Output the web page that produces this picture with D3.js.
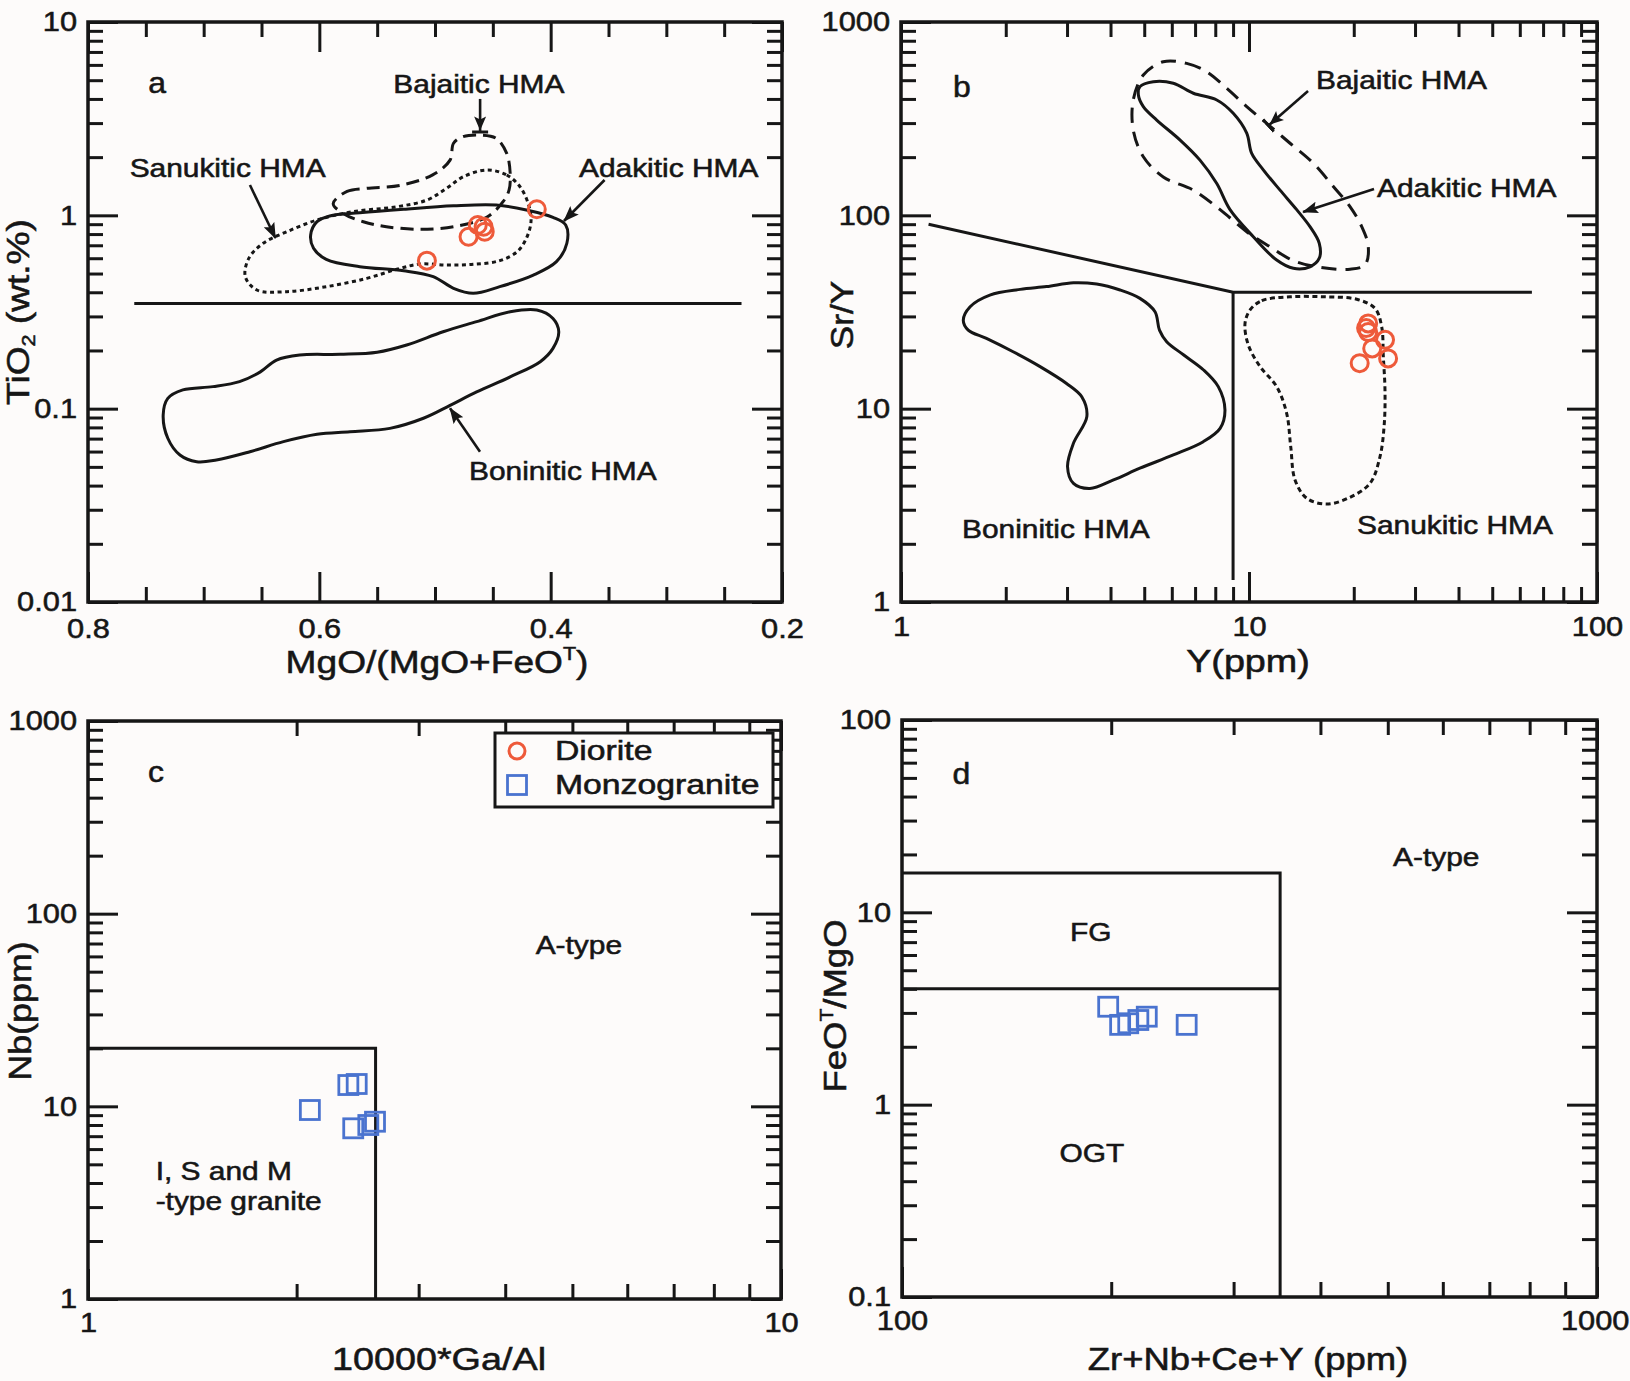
<!DOCTYPE html>
<html>
<head>
<meta charset="utf-8">
<script src="https://cdn.jsdelivr.net/npm/d3@7"></script>
<style>
  body { margin: 0; background: #fdfbfa; }
  svg text { font-family: "Liberation Sans", Arial, Helvetica, sans-serif; fill: #161616; stroke: #161616; stroke-width: 0.55px; }
</style>
</head>
<body>
<svg id="chart" width="1630" height="1381"></svg>
<script>
// ---------------- data ----------------
// (a) TiO2 (wt.%) vs MgO/(MgO+FeOT): HMA fields as [MgO#, TiO2]
const aBajaitic = [[0.588,1.15],[0.576,1.33],[0.559,1.38],[0.530,1.43],[0.502,1.62],[0.487,1.93],[0.484,2.36],[0.476,2.55],[0.460,2.60],[0.447,2.50],[0.438,2.09],[0.435,1.65],[0.436,1.35],[0.441,1.18],[0.455,0.98],[0.484,0.873],[0.513,0.847],[0.542,0.873],[0.562,0.927],[0.579,1.02]];
const aSanukitic = [[0.455,1.716],[0.438,1.616],[0.4265,1.406],[0.419,1.13],[0.417,0.927],[0.421,0.761],[0.429,0.648],[0.444,0.583],[0.467,0.558],[0.490,0.5535],[0.513,0.560],[0.533,0.526],[0.559,0.472],[0.594,0.4275],[0.628,0.403],[0.654,0.411],[0.664,0.482],[0.661,0.599],[0.6485,0.717],[0.628,0.823],[0.602,0.946],[0.571,1.044],[0.533,1.108],[0.507,1.20],[0.490,1.38],[0.4755,1.584]];
const aAdakitic = [[0.6075,0.791],[0.602,0.927],[0.591,0.992],[0.565,1.03],[0.527,1.075],[0.484,1.12],[0.447,1.13],[0.421,1.066],[0.398,0.977],[0.387,0.891],[0.386,0.717],[0.395,0.576],[0.415,0.491],[0.444,0.4275],[0.467,0.395],[0.484,0.4195],[0.5015,0.482],[0.527,0.517],[0.565,0.5425],[0.594,0.592],[0.605,0.675]];
const aBoninitic = [[0.412,0.324],[0.398,0.293],[0.393,0.25],[0.398,0.205],[0.409,0.175],[0.435,0.146],[0.464,0.122],[0.487,0.104],[0.510,0.0892],[0.539,0.0791],[0.5735,0.076],[0.602,0.0737],[0.631,0.0675],[0.660,0.0599],[0.689,0.0543],[0.706,0.0532],[0.7205,0.0576],[0.731,0.0703],[0.735,0.0927],[0.731,0.113],[0.718,0.125],[0.692,0.130],[0.669,0.138],[0.651,0.155],[0.637,0.1785],[0.617,0.1895],[0.582,0.191],[0.550,0.196],[0.5245,0.2135],[0.493,0.25],[0.464,0.282],[0.435,0.3175]];
const aDivider = [[0.76,0.35],[0.235,0.35]];
const aDiorite = [[0.412,1.075],[0.458,0.873],[0.457,0.823],[0.463,0.891],[0.471,0.775],[0.507,0.583]];
const aXTicks = [0.8,0.6,0.4,0.2];
const aXTickLabels = ['0.8','0.6','0.4','0.2'];
const aXMinorTicks = [0.75,0.7,0.65,0.55,0.5,0.45,0.35,0.3,0.25];
const aYTicks = [0.01,0.1,1,10];
const aYTickLabels = ['0.01','0.1','1','10'];
const aNotes = [
  {text:'a', at:[0.748,4.29], letter:true},
  {text:'Bajaitic HMA', at:[0.536,4.29]},
  {text:'Sanukitic HMA', at:[0.764,1.58]},
  {text:'Adakitic HMA', at:[0.3755,1.58]},
  {text:'Boninitic HMA', at:[0.4706,0.0428]}
];
const aArrows = [
  {from:[0.461,4.0], to:[0.461,2.68], bar:true},
  {from:[0.660,1.435], to:[0.638,0.763]},
  {from:[0.3534,1.523], to:[0.3885,0.935]},
  {from:[0.4611,0.0599], to:[0.487,0.1004]}
];

// (b) Sr/Y vs Y (ppm)
const bBajaitic = [[5.67,623],[6.62,611],[7.56,553],[8.63,454],[9.85,365],[11.24,299],[13.12,236],[15.3,186],[17.47,141],[19.51,111],[21.08,87.4],[22.02,68.8],[21.54,55.4],[19.51,52.6],[16.0,53.9],[13.41,58.3],[11.49,68.8],[9.85,82.3],[8.26,107],[6.92,135],[5.67,158],[4.97,201],[4.65,276],[4.65,395],[4.97,532]];
const bAdakitic = [[4.86,463],[5.31,491],[6.06,482],[6.92,428],[8.08,395],[9.01,337],[9.85,266],[10.18,209],[10.99,172],[12.28,135],[13.71,107],[14.97,87.4],[15.92,71.7],[15.92,60.0],[14.97,54.2],[13.41,53.2],[12.01,58.7],[10.29,77.5],[8.82,107],[8.08,146],[7.23,193],[6.34,245],[5.43,311],[4.97,365],[4.81,419]];
const bSanukitic = [[10.07,32.4],[10.88,36.2],[13.12,37.9],[16.35,37.9],[20.4,36.8],[23.02,33.0],[24.06,26.5],[24.32,18.6],[24.59,12.5],[24.48,8.4],[23.79,5.64],[22.27,4.11],[19.51,3.48],[16.72,3.21],[14.65,3.44],[13.56,4.28],[13.18,6.36],[12.83,9.46],[12.01,13.0],[10.76,16.5],[9.95,21.4],[9.74,27.6]];
const bBoninitic = [[1.51,28.7],[1.58,33.7],[1.80,38.7],[2.20,41.4],[2.62,42.8],[3.13,44.8],[3.65,44.1],[4.26,41.1],[4.86,37.2],[5.37,31.7],[5.53,25.5],[5.80,22.2],[6.48,19.0],[7.39,15.9],[8.16,13.0],[8.53,9.84],[8.26,7.91],[7.39,6.75],[6.06,5.76],[4.86,4.92],[4.08,4.28],[3.49,3.87],[3.13,4.11],[3.01,5.01],[3.13,6.62],[3.42,9.09],[3.31,11.5],[2.99,13.5],[2.51,16.5],[2.10,19.7],[1.76,23.1],[1.56,25.5]];
const bDivider = [[1.2,90],[9,40],[65,40]];
const bVertical = [[9,40],[9,1.3]];
const bDiorite = [[22.0,27.6],[21.7,26.1],[22.0,24.9],[24.6,22.7],[22.6,20.5],[20.8,17.2],[25.1,18.2]];
const bXTicks = [1,10,100];
const bXTickLabels = ['1','10','100'];
const bYTicks = [1,10,100,1000];
const bYTickLabels = ['1','10','100','1000'];
const bNotes = [
  {text:'b', at:[1.41,409], letter:true},
  {text:'Bajaitic HMA', at:[15.58,450]},
  {text:'Adakitic HMA', at:[23.33,124.4]},
  {text:'Boninitic HMA', at:[1.497,2.143]},
  {text:'Sanukitic HMA', at:[20.43,2.247]}
];
const bArrows = [
  {from:[14.78,440], to:[11.34,290], bar:true},
  {from:[22.87,136.8], to:[14.3,104]}
];

// (c) Nb (ppm) vs 10000*Ga/Al
const cField = [[1,20],[2.6,20],[2.6,1]];
const cMonzogranite = [[2.09,9.57],[2.375,12.9],[2.442,13.06],[2.414,7.69],[2.538,8.0],[2.595,8.32]];
const cXTicks = [1,10];
const cXTickLabels = ['1','10'];
const cYTicks = [1,10,100,1000];
const cYTickLabels = ['1','10','100','1000'];
const cNotes = [
  {text:'c', at:[1.221,482], letter:true},
  {text:'A-type', at:[4.426,62.1]},
  {text:'I, S and M', at:[1.252,4.147]},
  {text:'-type granite', at:[1.252,2.897]}
];

// (d) FeOT/MgO vs Zr+Nb+Ce+Y (ppm)
const dFG = [[100,16],[350,16],[350,0.1]];
const dOGT = [[100,4],[350,4]];
const dMonzogranite = [[198,3.23],[206,2.6],[211.6,2.65],[218.8,2.755],[225,2.867],[256.8,2.6]];
const dXTicks = [100,1000];
const dXTickLabels = ['100','1000'];
const dYTicks = [0.1,1,10,100];
const dYTickLabels = ['0.1','1','10','100'];
const dNotes = [
  {text:'d', at:[118.2,46.5], letter:true},
  {text:'A-type', at:[508.8,17.35]},
  {text:'FG', at:[174.5,7.08]},
  {text:'OGT', at:[168.5,0.506]}
];

const legendItems = [{name:'Diorite', kind:'circle'}, {name:'Monzogranite', kind:'square'}];

// ---------------- drawing ----------------
const INK = '#161616';
const DIORITE = '#ee5a3a';
const MONZO = '#4a73cf';
const MAJOR = 30, MINOR = 15;
const svg = d3.select('#chart');

const defs = svg.append('defs');
defs.append('marker').attr('id','head').attr('markerUnits','userSpaceOnUse')
  .attr('markerWidth',16).attr('markerHeight',12).attr('refX',15).attr('refY',6).attr('orient','auto')
  .append('path').attr('d','M0,0L16,6L0,12L3,6Z').attr('fill',INK);
defs.append('marker').attr('id','headBar').attr('markerUnits','userSpaceOnUse')
  .attr('markerWidth',18).attr('markerHeight',18).attr('refX',17).attr('refY',9).attr('orient','auto')
  .append('path').attr('d','M1,3L15,9L1,15L4,9Z M15,1L18,1L18,17L15,17Z').attr('fill',INK);

function logMinor(lo, hi) {
  const out = [];
  for (let p = lo; p < hi; p *= 10) for (let k = 2; k <= 9; k++) out.push(+(p * k).toPrecision(3));
  return out;
}

function richText(g, parts, size) {
  const t = g.append('text').attr('font-size', size);
  let shift = 0;
  parts.forEach(pt => {
    const s = t.append('tspan').text(pt.t);
    let target = 0;
    if (pt.sup) { s.attr('font-size', size * 0.58); target = -size * 0.42; }
    if (pt.sub) { s.attr('font-size', size * 0.58); target = size * 0.2; }
    if (target !== shift) s.attr('dy', target - shift);
    shift = target;
  });
  return t;
}

function placeText(parts, x, y, opt) {
  const o = Object.assign({size:32, sx:1.15, rotate:0, anchor:'middle', weight:'normal'}, opt || {});
  const g = svg.append('g').attr('transform', `translate(${x},${y}) rotate(${o.rotate}) scale(${o.sx},1)`);
  const t = richText(g, typeof parts === 'string' ? [{t:parts}] : parts, o.size);
  t.attr('text-anchor', o.anchor).attr('font-weight', o.weight);
  return t;
}

function drawAxes(p) {
  const [xl, xr] = p.x.range();
  const [yb, yt] = p.y.range();
  const g = svg.append('g');
  const fmt = (vals, labs) => d => labs[vals.indexOf(d)];
  const styleLines = s => { s.select('.domain').remove(); s.selectAll('line').attr('stroke', INK).attr('stroke-width', 3); };
  const styleText = sx => s => s.selectAll('text').attr('fill', INK).style('font-size', '28px')
      .style('font-family', '"Liberation Sans", Arial, sans-serif').attr('transform', `scale(${sx},1)`);

  // bottom / left carry the tick labels
  const bottom = g.append('g').attr('transform', `translate(0,${yb})`)
    .call(d3.axisBottom(p.x).tickValues(p.xMajor).tickFormat(fmt(p.xMajor, p.xLabels))
      .tickSizeInner(-MAJOR).tickSizeOuter(0).tickPadding(p.xPad))
    .call(styleLines).call(styleText(1.1));
  // keep the last label inside the canvas when it sits on the page edge
  if (p.lastLabelEnd) {
    bottom.selectAll('.tick').filter(d => d === p.xMajor[p.xMajor.length - 1])
      .select('text').attr('text-anchor', 'end').attr('x', p.lastLabelEnd);
  }
  g.append('g').attr('transform', `translate(0,${yb})`)
    .call(d3.axisBottom(p.x).tickValues(p.xMinor).tickFormat('').tickSizeInner(-MINOR).tickSizeOuter(0))
    .call(styleLines);
  g.append('g').attr('transform', `translate(${xl},0)`)
    .call(d3.axisLeft(p.y).tickValues(p.yMajor).tickFormat(fmt(p.yMajor, p.yLabels))
      .tickSizeInner(-MAJOR).tickSizeOuter(0).tickPadding(10))
    .call(styleLines).call(styleText(1.1));
  g.append('g').attr('transform', `translate(${xl},0)`)
    .call(d3.axisLeft(p.y).tickValues(p.yMinor).tickFormat('').tickSizeInner(-MINOR).tickSizeOuter(0))
    .call(styleLines);
  // mirrored ticks on top / right
  g.append('g').attr('transform', `translate(0,${yt})`)
    .call(d3.axisTop(p.x).tickValues(p.xMajor).tickFormat('').tickSizeInner(-MAJOR).tickSizeOuter(0)).call(styleLines);
  g.append('g').attr('transform', `translate(0,${yt})`)
    .call(d3.axisTop(p.x).tickValues(p.xMinor).tickFormat('').tickSizeInner(-MINOR).tickSizeOuter(0)).call(styleLines);
  g.append('g').attr('transform', `translate(${xr},0)`)
    .call(d3.axisRight(p.y).tickValues(p.yMajor).tickFormat('').tickSizeInner(-MAJOR).tickSizeOuter(0)).call(styleLines);
  g.append('g').attr('transform', `translate(${xr},0)`)
    .call(d3.axisRight(p.y).tickValues(p.yMinor).tickFormat('').tickSizeInner(-MINOR).tickSizeOuter(0)).call(styleLines);
  // frame
  g.append('rect').attr('x', xl).attr('y', yt).attr('width', xr - xl).attr('height', yb - yt)
    .attr('fill', 'none').attr('stroke', INK).attr('stroke-width', 3.5);
}

function contour(p, pts, dash) {
  const line = d3.line().x(d => p.x(d[0])).y(d => p.y(d[1])).curve(d3.curveCatmullRomClosed.alpha(0.5));
  svg.append('path').attr('d', line(pts)).attr('fill', 'none').attr('stroke', INK)
    .attr('stroke-width', 3).attr('stroke-dasharray', dash || null).attr('stroke-linejoin', 'round');
}
function polyline(p, pts) {
  const line = d3.line().x(d => p.x(d[0])).y(d => p.y(d[1]));
  svg.append('path').attr('d', line(pts)).attr('fill', 'none').attr('stroke', INK).attr('stroke-width', 3);
}
function circles(p, pts) {
  svg.append('g').selectAll('circle').data(pts).join('circle')
    .attr('cx', d => p.x(d[0])).attr('cy', d => p.y(d[1])).attr('r', 8.5)
    .attr('fill', 'none').attr('stroke', DIORITE).attr('stroke-width', 3);
}
function squares(p, pts) {
  const s = 19;
  svg.append('g').selectAll('rect').data(pts).join('rect')
    .attr('x', d => p.x(d[0]) - s / 2).attr('y', d => p.y(d[1]) - s / 2).attr('width', s).attr('height', s)
    .attr('fill', 'none').attr('stroke', MONZO).attr('stroke-width', 2.8);
}
function notes(p, list) {
  list.forEach(n => placeText(n.text, p.x(n.at[0]), p.y(n.at[1]),
    n.letter ? {size:29, sx:1.1, anchor:'start'} : {size:26, sx:1.15, anchor:'start'}));
}
function arrows(p, list) {
  list.forEach(a => svg.append('line')
    .attr('x1', p.x(a.from[0])).attr('y1', p.y(a.from[1]))
    .attr('x2', p.x(a.to[0])).attr('y2', p.y(a.to[1]))
    .attr('stroke', INK).attr('stroke-width', 2.6)
    .attr('marker-end', a.bar ? 'url(#headBar)' : 'url(#head)'));
}

// panel frames and scales
const pa = { x:d3.scaleLinear().domain([0.8,0.2]).range([88,782]), y:d3.scaleLog().domain([0.01,10]).range([602,22]),
  xMajor:aXTicks, xLabels:aXTickLabels, xMinor:aXMinorTicks, yMajor:aYTicks, yLabels:aYTickLabels, yMinor:logMinor(0.01,10), xPad:16 };
const pb = { x:d3.scaleLog().domain([1,100]).range([901,1597]), y:d3.scaleLog().domain([1,1000]).range([602,22]),
  xMajor:bXTicks, xLabels:bXTickLabels, xMinor:logMinor(1,100), yMajor:bYTicks, yLabels:bYTickLabels, yMinor:logMinor(1,1000), xPad:14 };
const pc = { x:d3.scaleLog().domain([1,10]).range([88,781]), y:d3.scaleLog().domain([1,1000]).range([1299,721]),
  xMajor:cXTicks, xLabels:cXTickLabels, xMinor:logMinor(1,10), yMajor:cYTicks, yLabels:cYTickLabels, yMinor:logMinor(1,1000), xPad:13 };
const pd = { x:d3.scaleLog().domain([100,1000]).range([902,1597]), y:d3.scaleLog().domain([0.1,100]).range([1297,720]),
  xMajor:dXTicks, xLabels:dXTickLabels, xMinor:logMinor(100,1000), yMajor:dYTicks, yLabels:dYTickLabels, yMinor:logMinor(0.1,100), xPad:13,
  lastLabelEnd:29 };

// (a)
contour(pa, aBajaitic, '13,7');
contour(pa, aSanukitic, '4,3.5');
contour(pa, aAdakitic);
contour(pa, aBoninitic);
polyline(pa, aDivider);
circles(pa, aDiorite);
notes(pa, aNotes);
arrows(pa, aArrows);
drawAxes(pa);

// (b)
contour(pb, bBajaitic, '15,9');
contour(pb, bAdakitic);
contour(pb, bSanukitic, '5,3.5');
contour(pb, bBoninitic);
polyline(pb, bDivider);
polyline(pb, bVertical);
circles(pb, bDiorite);
notes(pb, bNotes);
arrows(pb, bArrows);
drawAxes(pb);

// (c)
polyline(pc, cField);
squares(pc, cMonzogranite);
notes(pc, cNotes);
drawAxes(pc);

// legend inside (c)
const lg = svg.append('g').attr('transform', 'translate(495,733)');
lg.append('rect').attr('width', 278).attr('height', 74).attr('fill', '#fdfbfa').attr('stroke', INK).attr('stroke-width', 3);
legendItems.forEach((it, i) => {
  const cy = 18 + i * 34;
  if (it.kind === 'circle') {
    lg.append('circle').attr('cx', 22).attr('cy', cy).attr('r', 8).attr('fill', 'none').attr('stroke', DIORITE).attr('stroke-width', 3);
  } else {
    lg.append('rect').attr('x', 12.5).attr('y', cy - 9.5).attr('width', 19).attr('height', 19).attr('fill', 'none').attr('stroke', MONZO).attr('stroke-width', 2.8);
  }
  lg.append('g').attr('transform', `translate(60,${cy + 9}) scale(1.25,1)`)
    .append('text').attr('font-size', 27).text(it.name);
});

// (d)
polyline(pd, dFG);
polyline(pd, dOGT);
squares(pd, dMonzogranite);
notes(pd, dNotes);
drawAxes(pd);

// axis titles
placeText([{t:'MgO/(MgO+FeO'},{t:'T',sup:true},{t:')'}], 437, 673, {size:32, sx:1.16});
placeText([{t:'TiO'},{t:'2',sub:true},{t:' (wt.%)'}], 29, 312, {size:32, sx:1.16, rotate:-90});
placeText('Y(ppm)', 1248, 672, {size:32, sx:1.18});
placeText('Sr/Y', 853, 315, {size:32, sx:1.1, rotate:-90});
placeText('10000*Ga/Al', 439, 1370, {size:32, sx:1.18});
placeText('Nb(ppm)', 31, 1011, {size:32, sx:1.12, rotate:-90});
placeText('Zr+Nb+Ce+Y (ppm)', 1248, 1370, {size:32, sx:1.14});
placeText([{t:'FeO'},{t:'T',sup:true},{t:'/MgO'}], 846, 1006, {size:32, sx:1.14, rotate:-90});
</script>
</body>
</html>
